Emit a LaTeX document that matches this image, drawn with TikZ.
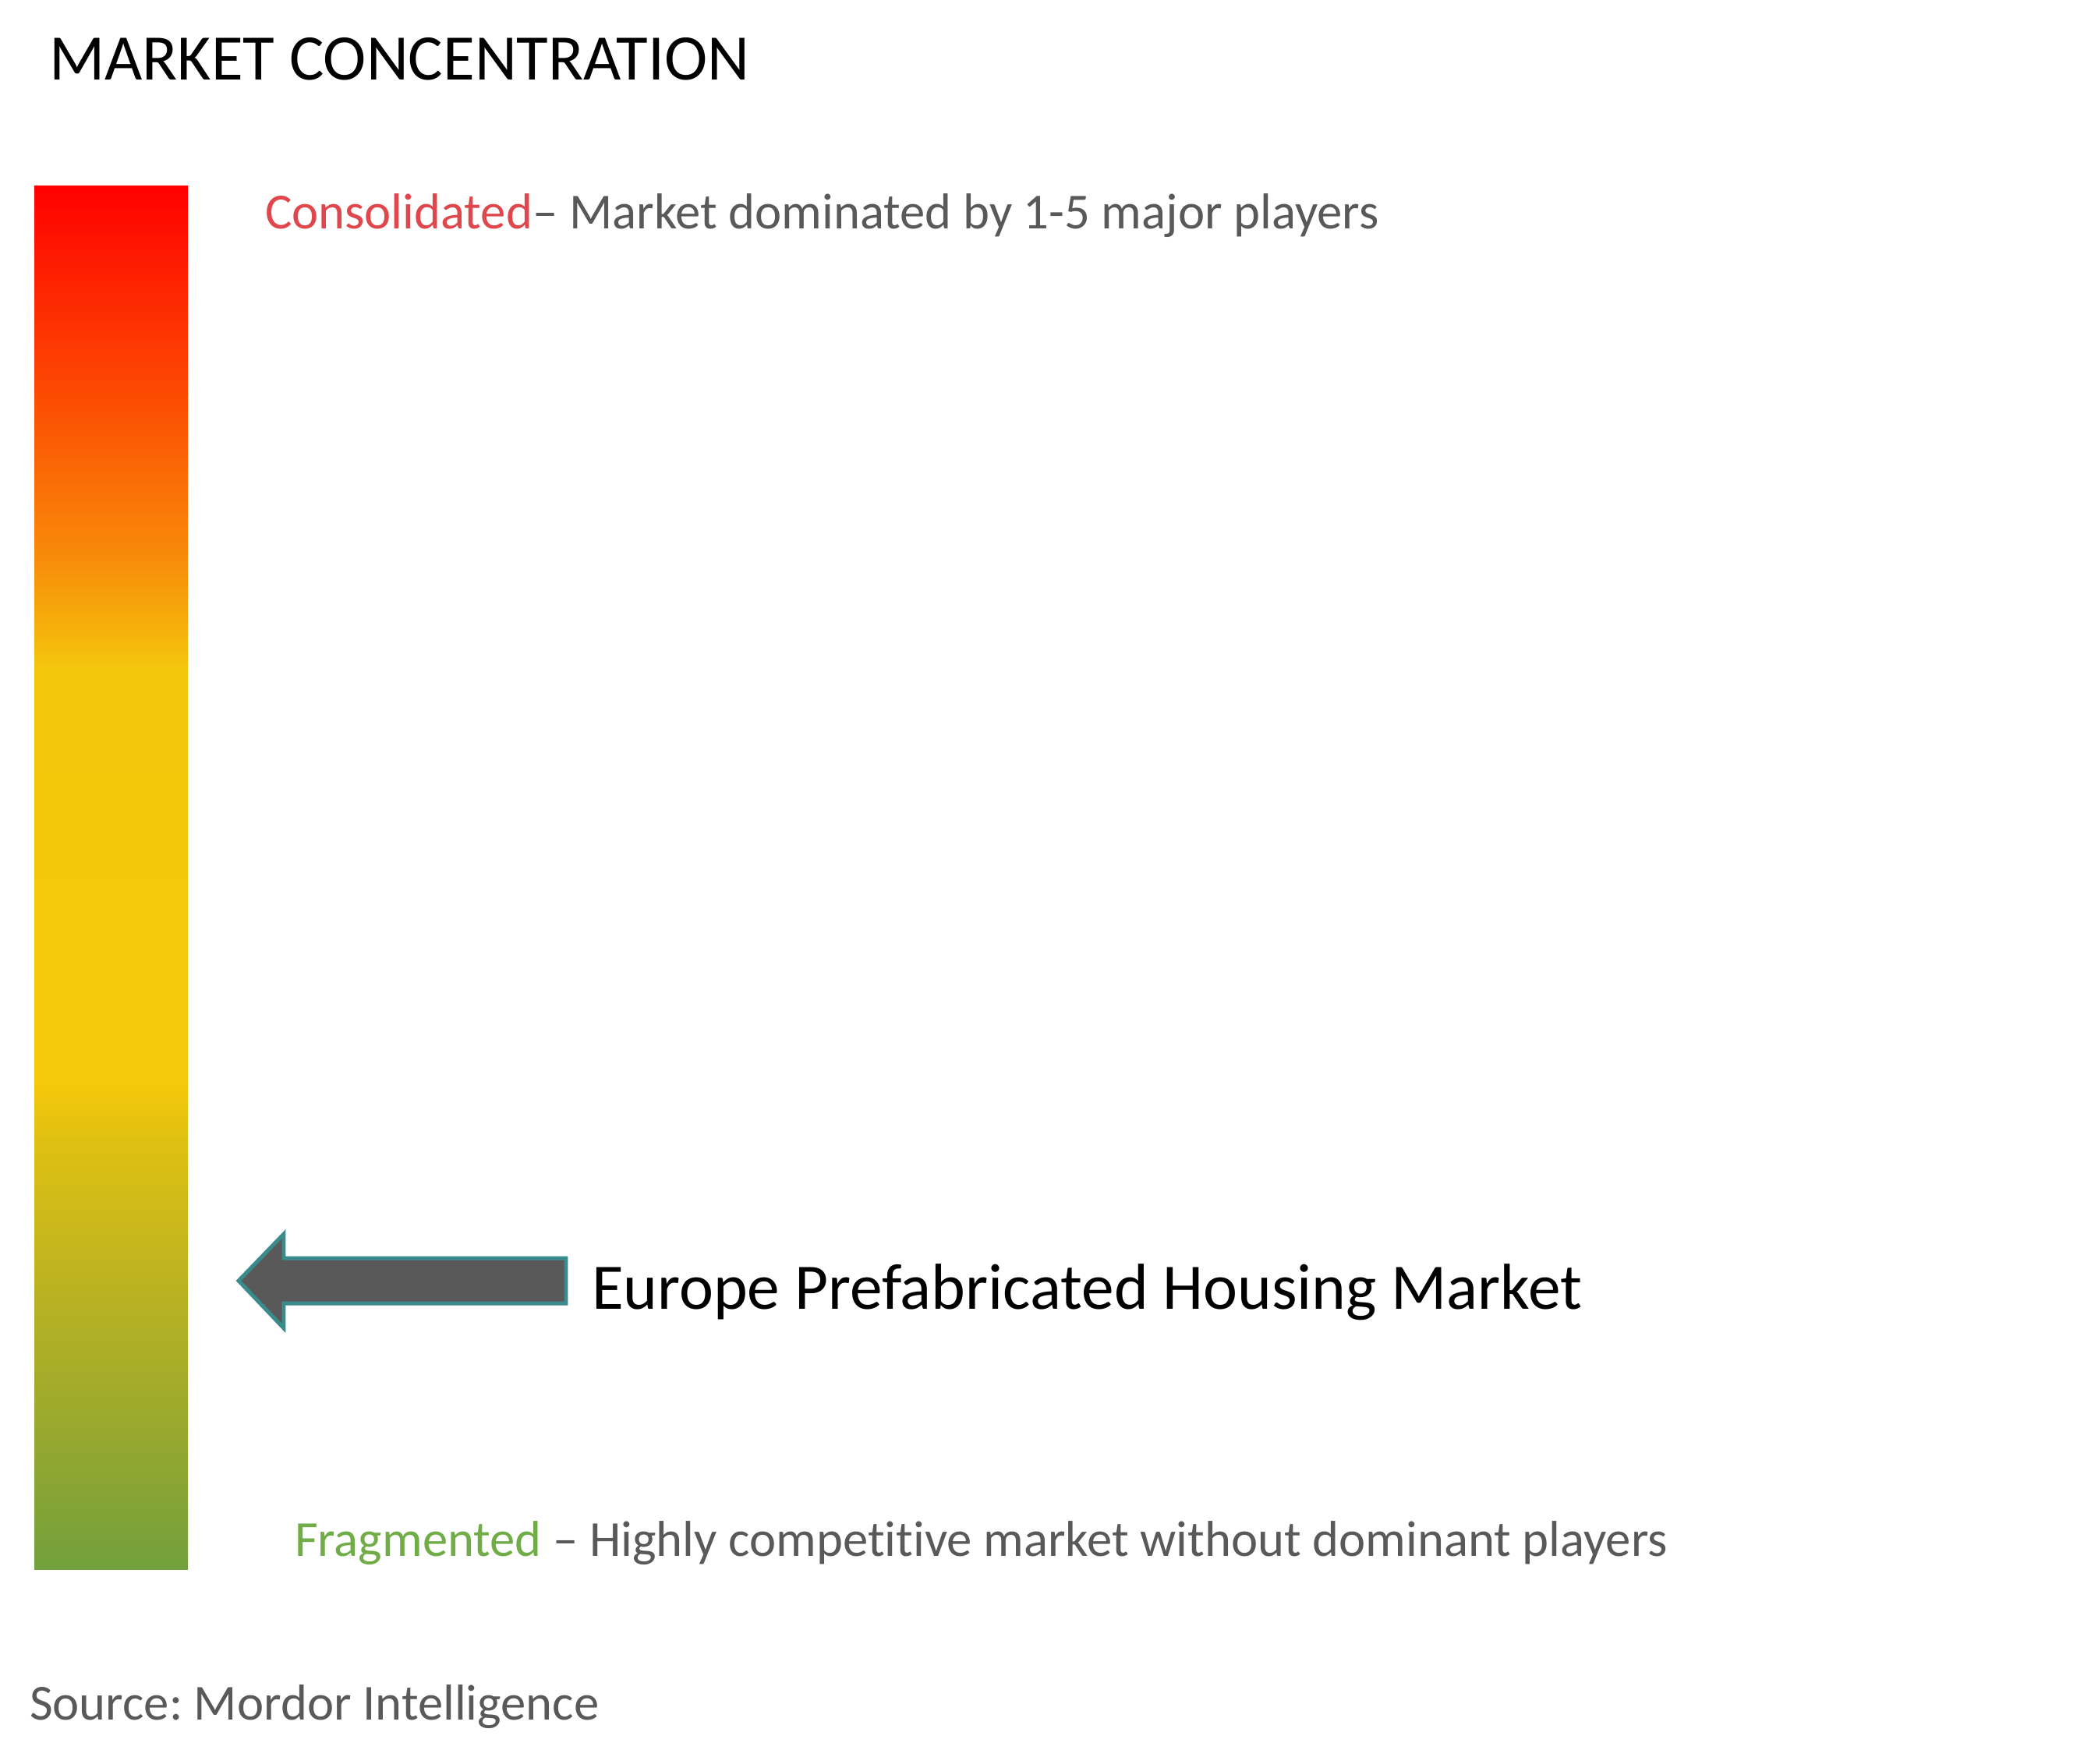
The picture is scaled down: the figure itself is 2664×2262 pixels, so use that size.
\documentclass[tikz,border=0pt]{standalone}
\usepackage{fontspec}
\setmainfont[Ligatures={NoCommon}]{Carlito}
\definecolor{redtxt}{HTML}{E0474C}
\definecolor{greytxt}{HTML}{595959}
\definecolor{greentxt}{HTML}{70AD47}
\definecolor{arrowfill}{HTML}{595959}
\definecolor{arrowline}{HTML}{3A8C8C}
\definecolor{g0}{HTML}{FF0000}
\definecolor{g1}{HTML}{FC4A02}
\definecolor{g2}{HTML}{F88C0A}
\definecolor{g3}{HTML}{F4C70C}
\definecolor{g4}{HTML}{F5C80A}
\definecolor{g5}{HTML}{DFC012}
\definecolor{g6}{HTML}{BAB222}
\definecolor{g7}{HTML}{98A82E}
\definecolor{g8}{HTML}{72A03C}
\tikzset{
  lbl/.style={anchor=base west, inner sep=0pt, outer sep=0pt},
  bigtxt/.style={lbl, font=\fontsize{23.7}{28}\selectfont\frenchspacing},
  midtxt/.style={lbl, font=\fontsize{18.4}{22}\selectfont\frenchspacing, text=greytxt},
}
\begin{document}
\begin{tikzpicture}[x=0.01cm,y=-0.01cm]
\useasboundingbox (0,0) rectangle (2664,2262);
\fill[white] (0,0) rectangle (2664,2262);
% gradient bar
\shade[top color=g0, bottom color=g1] (44,238) rectangle (241,505);
\shade[top color=g1, bottom color=g2] (44,504) rectangle (241,718);
\shade[top color=g2, bottom color=g3] (44,717) rectangle (241,860);
\shade[top color=g3, bottom color=g4] (44,859) rectangle (241,1393);
\shade[top color=g4, bottom color=g5] (44,1392) rectangle (241,1464);
\shade[top color=g5, bottom color=g6] (44,1463) rectangle (241,1659);
\shade[top color=g6, bottom color=g7] (44,1658) rectangle (241,1837);
\shade[top color=g7, bottom color=g8] (44,1836) rectangle (241,2013);
% arrow
\draw[arrowline, fill=arrowfill, line width=1.4pt, line join=miter]
  (306,1643) -- (364,1583) -- (364,1614) -- (726,1614) -- (726,1672)
  -- (364,1672) -- (364,1704) -- cycle;
% texts
\node[bigtxt] (title) at (63,102) {MARKET CONCENTRATION};
\node[midtxt] (cons) at (340,293) {\textcolor{redtxt}{Consolidated}– Market dominated by 1-5 major players};
\node[bigtxt] (mkt) at (759,1679) {Europe Prefabricated Housing Market};
\node[midtxt] (frag) at (378,1996) {\textcolor{greentxt}{Fragmented} – Highly competitive market without dominant players};
\node[midtxt] (src) at (38,2206) {Source: Mordor Intelligence};
\end{tikzpicture}
\end{document}
